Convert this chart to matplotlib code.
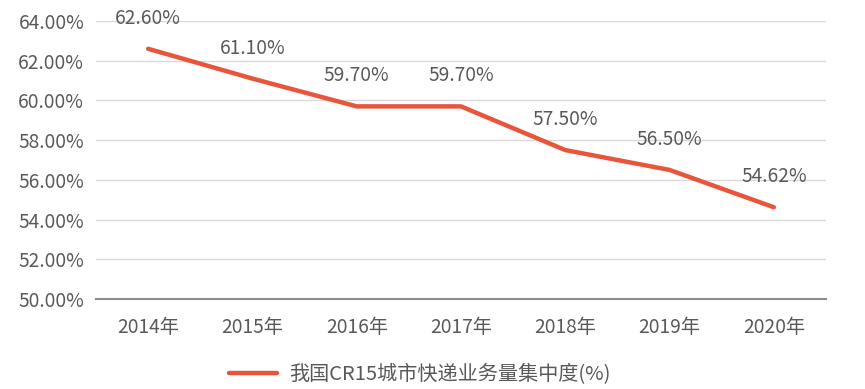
import matplotlib
matplotlib.use("Agg")
import matplotlib.pyplot as plt

plt.rcParams['font.family'] = ['Noto Sans CJK SC', 'DejaVu Sans']

categories = ["2014年", "2015年", "2016年", "2017年", "2018年", "2019年", "2020年"]
values = [62.60, 61.10, 59.70, 59.70, 57.50, 56.50, 54.62]
yticks = [50, 52, 54, 56, 58, 60, 62, 64]
series_name = "我国CR15城市快递业务量集中度(%)"

fig = plt.figure(figsize=(8.65, 3.89), dpi=100)
ax = fig.add_axes([96/865, 1-299/389, 730/865, 278/389])

x = list(range(len(categories)))
color = "#E8553A"
line, = ax.plot(x, values, color=color, lw=3.2, solid_capstyle='round', solid_joinstyle='round', label=series_name)
for xi, v in zip(x, values):
    ax.annotate(f"{v:.2f}%", (xi, v), xytext=(0, 22), textcoords='offset points',
                ha='center', va='center', fontsize=13.8, color='#595959')

ax.set_xlim(-0.5, len(categories) - 0.5)
ax.set_ylim(50, 64)
ax.set_yticks(yticks)
ax.set_yticklabels([f"{t:.2f}%" for t in yticks])
ax.set_xticks(x)
ax.set_xticklabels(categories)
ax.tick_params(axis='both', length=0, labelsize=13.8, labelcolor='#595959')
ax.tick_params(axis='y', pad=8.5)
ax.tick_params(axis='x', pad=13)
ax.grid(axis='y', color='#d9d9d9', lw=1)
ax.set_axisbelow(True)
for s in ['top', 'right', 'left']:
    ax.spines[s].set_visible(False)
ax.spines['bottom'].set_color('#8c8c8c')
ax.spines['bottom'].set_linewidth(1.5)

fig.legend(handles=[line], loc='center', bbox_to_anchor=(420/865, 1-375/389), frameon=False,
           fontsize=14.5, labelcolor='#595959', handlelength=2.4, handletextpad=0.6)

fig.savefig("out.png", dpi=100)
